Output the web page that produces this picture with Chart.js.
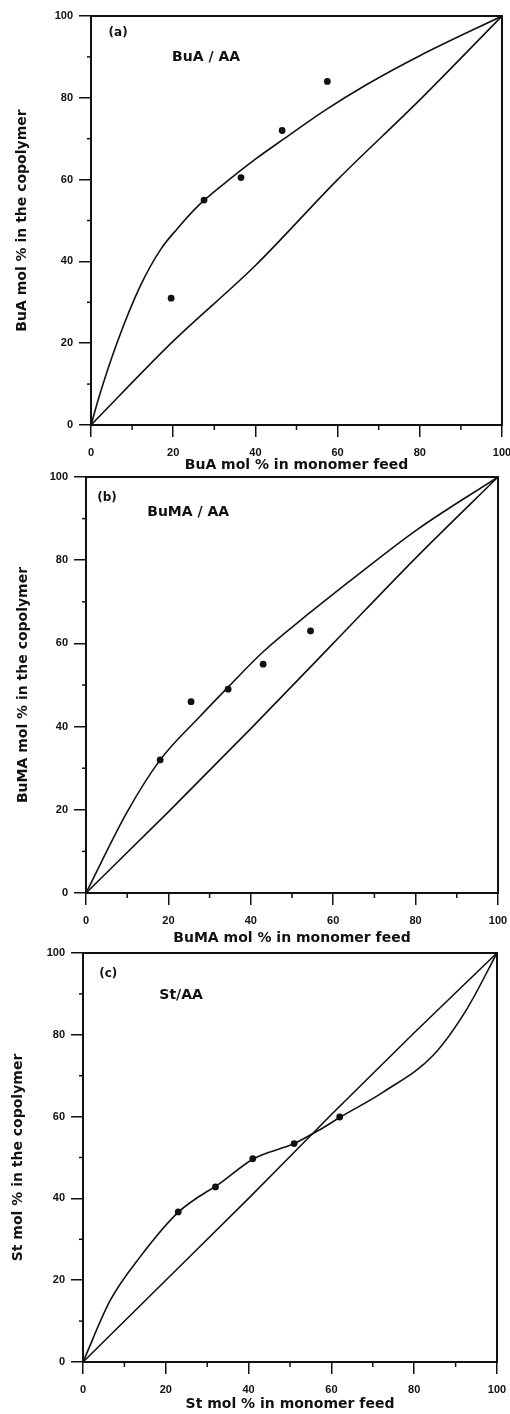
<!DOCTYPE html>
<html>
<head>
<meta charset="utf-8">
<script src="https://cdn.jsdelivr.net/npm/chart.js@4.4.1/dist/chart.umd.min.js"></script>
<style>
  html, body { margin: 0; padding: 0; background: #fff; }
  #wrap { position: relative; width: 510px; height: 1414px; overflow: hidden; }
  canvas { position: absolute; left: 0; }
</style>
</head>
<body>
<div id="wrap">
  <canvas id="chartA" width="510" height="474" style="top:0px"></canvas>
  <canvas id="chartB" width="510" height="480" style="top:470px"></canvas>
  <canvas id="chartC" width="510" height="472" style="top:942px"></canvas>
</div>
<script>
// ================= DATA =================
const tickValues = [0, 20, 40, 60, 80, 100];
const minorTicks = [10, 30, 50, 70, 90];

// (a) BuA / AA
const feedA = [19.5, 27.5, 36.5, 46.5, 57.5];
const copolyA = [31, 55, 60.5, 72, 84];
const fitXA = [0, 2.3, 6.3, 12, 17, 21, 26, 33, 40, 47, 57, 67, 80, 100];
const fitYA = [0, 8, 20, 34, 43, 48, 53.5, 59.5, 65, 70, 77, 83.2, 90.3, 100];
const diagXA = [0, 20, 40, 60, 80, 100];
const diagYA = [0, 20.5, 39, 60, 79.5, 100];

// (b) BuMA / AA
const feedB = [18, 25.5, 34.5, 43, 54.5];
const copolyB = [32, 46, 49, 55, 63];
const fitXB = [0, 10, 18, 27.7, 34.5, 43, 54.5, 66.5, 80.3, 100];
const fitYB = [0, 19.5, 32, 42.5, 49.5, 58, 67.5, 76.9, 87.3, 100];
const diagXB = [0, 20, 40, 60, 80, 100];
const diagYB = [0, 19.5, 39.5, 60, 80.5, 100];

// (c) St / AA
const feedC = [23, 32, 41, 51, 62];
const copolyC = [36.7, 42.8, 49.7, 53.4, 59.9];
const fitXC = [0, 6.6, 13.8, 23.1, 33.5, 41.2, 51, 57.2, 62.2, 72.5, 84.6, 92.6, 100];
const fitYC = [0, 15.1, 25.7, 36.7, 44, 49.7, 53.4, 56.8, 59.9, 66, 75, 86.1, 100];
const diagXC = [0, 20, 40, 60, 80, 100];
const diagYC = [0, 20, 40, 60.5, 80.5, 100];

// ================= STYLE =================
const ink = "#111";
const tickFont = { family: "'Liberation Sans', Arial, sans-serif", size: 11, weight: "bold" };
const titleFont = { family: "'DejaVu Sans', sans-serif", size: 14, weight: "bold" };

function toPoints(xs, ys) {
  return xs.map((x, i) => ({ x: x, y: ys[i] }));
}

// box around the plot, minor ticks, panel labels
const framePlugin = {
  id: "frame",
  afterDraw(chart, args, opts) {
    const { ctx, chartArea: a, scales } = chart;
    ctx.save();
    ctx.strokeStyle = ink;
    ctx.lineWidth = 2;
    ctx.strokeRect(a.left, a.top, a.right - a.left, a.bottom - a.top);

    ctx.lineWidth = 1.5;
    minorTicks.forEach(v => {
      const px = scales.x.getPixelForValue(v);
      ctx.beginPath(); ctx.moveTo(px, a.bottom); ctx.lineTo(px, a.bottom + 5); ctx.stroke();
      const py = scales.y.getPixelForValue(v);
      ctx.beginPath(); ctx.moveTo(a.left, py); ctx.lineTo(a.left - 4, py); ctx.stroke();
    });

    ctx.fillStyle = ink;
    ctx.textAlign = "center";
    ctx.textBaseline = "middle";
    (opts.labels || []).forEach(l => {
      ctx.font = l.font;
      ctx.fillText(l.text, scales.x.getPixelForValue(l.x), scales.y.getPixelForValue(l.y));
    });
    ctx.restore();
  }
};

function makePanel(id, p) {
  const ctx = document.getElementById(id).getContext("2d");
  return new Chart(ctx, {
    type: "scatter",
    data: {
      datasets: [
        { data: toPoints(p.diagX, p.diagY), showLine: true, borderColor: ink, borderWidth: 1.6,
          pointRadius: 0, cubicInterpolationMode: "monotone" },
        { data: toPoints(p.fitX, p.fitY), showLine: true, borderColor: ink, borderWidth: 1.6,
          pointRadius: 0, cubicInterpolationMode: "monotone" },
        { data: toPoints(p.feed, p.copoly), showLine: false, pointRadius: 3.4,
          pointBackgroundColor: ink, pointBorderColor: ink, pointBorderWidth: 0 }
      ]
    },
    options: {
      responsive: false,
      animation: false,
      devicePixelRatio: 1,
      layout: { padding: { top: p.padTop, right: p.padRight, bottom: 0, left: 0 } },
      plugins: {
        legend: { display: false },
        tooltip: { enabled: false },
        frame: { labels: p.labels }
      },
      scales: {
        x: {
          type: "linear", min: 0, max: 100,
          afterBuildTicks: s => { s.ticks = tickValues.map(v => ({ value: v })); },
          ticks: { color: ink, font: tickFont, padding: 9, maxRotation: 0 },
          grid: { drawOnChartArea: false, tickLength: 12, color: ink, lineWidth: 1.5 },
          border: { color: ink, width: 2 },
          title: { display: true, text: p.xTitle, color: ink, font: titleFont,
                   padding: { top: 0, bottom: p.xTitlePad } },
          afterFit: s => { s.height = p.xHeight; s.paddingLeft = 0; s.paddingRight = 0; }
        },
        y: {
          type: "linear", min: 0, max: 100,
          afterBuildTicks: s => { s.ticks = tickValues.map(v => ({ value: v })); },
          ticks: { color: ink, font: tickFont, padding: 6 },
          grid: { drawOnChartArea: false, tickLength: 12, color: ink, lineWidth: 1.5 },
          border: { color: ink, width: 2 },
          title: { display: true, text: p.yTitle, color: ink, font: titleFont,
                   padding: { top: p.yTitlePad, bottom: 0 } },
          afterFit: s => { s.width = p.yWidth; s.paddingTop = 0; s.paddingBottom = 0; }
        }
      }
    },
    plugins: [framePlugin]
  });
}

makePanel("chartA", {
  feed: feedA, copoly: copolyA, fitX: fitXA, fitY: fitYA, diagX: diagXA, diagY: diagYA,
  xTitle: "BuA mol % in monomer feed", yTitle: "BuA mol % in the copolymer",
  padTop: 16, padRight: 8, xHeight: 49, yWidth: 91, xTitlePad: 0, yTitlePad: 14,
  labels: [
    { text: "(a)", x: 6.6, y: 95.8, font: "bold 12px 'DejaVu Sans', sans-serif" },
    { text: "BuA / AA", x: 28, y: 90, font: "bold 14px 'DejaVu Sans', sans-serif" }
  ]
});

makePanel("chartB", {
  feed: feedB, copoly: copolyB, fitX: fitXB, fitY: fitYB, diagX: diagXB, diagY: diagYB,
  xTitle: "BuMA mol % in monomer feed", yTitle: "BuMA mol % in the copolymer",
  padTop: 7, padRight: 12, xHeight: 57, yWidth: 86, xTitlePad: 3, yTitlePad: 15,
  labels: [
    { text: "(b)", x: 5.1, y: 95, font: "bold 12px 'DejaVu Sans', sans-serif" },
    { text: "BuMA / AA", x: 24.8, y: 91.4, font: "bold 14px 'DejaVu Sans', sans-serif" }
  ]
});

makePanel("chartC", {
  feed: feedC, copoly: copolyC, fitX: fitXC, fitY: fitYC, diagX: diagXC, diagY: diagYC,
  xTitle: "St mol % in monomer feed", yTitle: "St mol % in the copolymer",
  padTop: 11, padRight: 13, xHeight: 52, yWidth: 83, xTitlePad: 1, yTitlePad: 10,
  labels: [
    { text: "(c)", x: 6.1, y: 95, font: "bold 12px 'DejaVu Sans', sans-serif" },
    { text: "St/AA", x: 23.7, y: 89.6, font: "bold 14px 'DejaVu Sans', sans-serif" }
  ]
});
</script>
</body>
</html>
